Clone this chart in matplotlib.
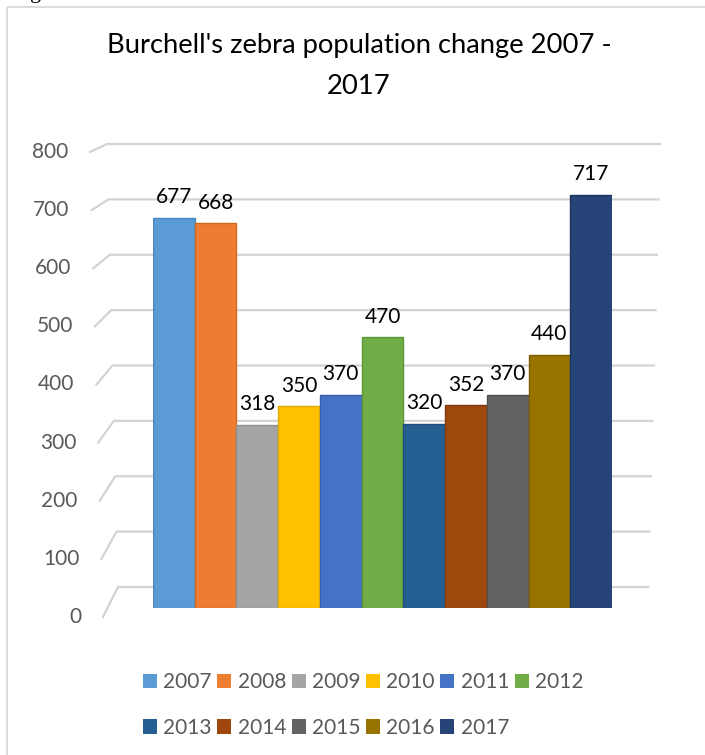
import matplotlib.pyplot as plt
from matplotlib.patches import Patch

plt.rcParams['font.family'] = ['Lato', 'DejaVu Sans']

# zebra counts per year
years = ['2007', '2008', '2009', '2010', '2011', '2012',
         '2013', '2014', '2015', '2016', '2017']
counts = [677, 668, 318, 350, 370, 470, 320, 352, 370, 440, 717]
colors = ['#5B9BD5', '#ED7D31', '#A5A5A5', '#FFC000', '#4472C4', '#70AD47',
          '#255E91', '#9E480E', '#636363', '#997300', '#264478']
edge_colors = ['#4a86bd', '#d0681f', '#8f8f8f', '#e0a800', '#3560ad', '#5c9638',
               '#1d4d78', '#83390a', '#505050', '#7d5e00', '#1c3560']
y_ticks = [0, 100, 200, 300, 400, 500, 600, 700, 800]

W, H = 705, 755
fig = plt.figure(figsize=(W / 100, H / 100), dpi=100)

# pixel-space layer for the frame, the perspective grid and the axis labels
deco = fig.add_axes([0, 0, 1, 1], zorder=0)
deco.set_xlim(0, W)
deco.set_ylim(H, 0)
deco.axis('off')

grid_col = '#d3d3d3'
deco.plot([7, 7], [7, H], color='#dcdcdc', lw=1.5, solid_capstyle='butt')
deco.plot([7, W], [7, 7], color='#dcdcdc', lw=1.5, solid_capstyle='butt')


def front_pt(v):
    return 103 - 13 * v / 800, 617 - 0.58125 * v


def back_pt(v):
    return 118 - 11 * v / 800, 587 - 0.55375 * v


for v in y_ticks:
    fx, fy = front_pt(v)
    bx, by = back_pt(v)
    right = 648 + 12 * v / 800
    deco.plot([fx, bx, right], [fy, by, by], color=grid_col, lw=1.6,
              solid_joinstyle='round')
    deco.text(fx - 22, fy, str(v), ha='right', va='center',
              fontsize=15, color='#595959')

# bars of the 3-D column chart
ax = fig.add_axes([153 / W, (H - 608) / H, 459 / W, (608 - 147.2) / H], zorder=1)
ax.patch.set_alpha(0)
x = list(range(len(years)))
ax.bar(x, counts, width=1.0, color=colors, edgecolor=edge_colors, linewidth=1.0)
ax.set_xlim(-0.5, len(years) - 0.5)
ax.set_ylim(0, 800)
ax.axis('off')

for i, v in enumerate(counts):
    ax.annotate(str(v), (i, v), xytext=(0, 10.5), textcoords='offset points',
                ha='center', va='baseline', fontsize=15, color='black',
                annotation_clip=False)

# title on two lines
fig.text(359 / W, 1 - 45 / H, "Burchell's zebra population change 2007 -",
         ha='center', va='center', fontsize=19.7, color='black')
fig.text(359 / W, 1 - 87 / H, "2017",
         ha='center', va='center', fontsize=19.7, color='black')

# edge of the caption above the chart
fig.text(36 / W, 1 + 2 / H, 'g', family='Liberation Serif', fontsize=16,
         ha='center', va='baseline', color='black')

# legend: two rows, filled left to right
handles = [Patch(facecolor=c, label=y) for c, y in zip(colors, years)]
order = [0, 6, 1, 7, 2, 8, 3, 9, 4, 10, 5]
fig.legend([handles[k] for k in order], [years[k] for k in order],
           ncol=6, loc='upper left', bbox_to_anchor=(143 / W, 1 - 672 / H),
           frameon=False, fontsize=15, labelcolor='#595959',
           handlelength=0.67, handleheight=0.67, handletextpad=0.3,
           columnspacing=0.27, labelspacing=1.24, borderpad=0, borderaxespad=0)

fig.savefig('out.png', dpi=100)
